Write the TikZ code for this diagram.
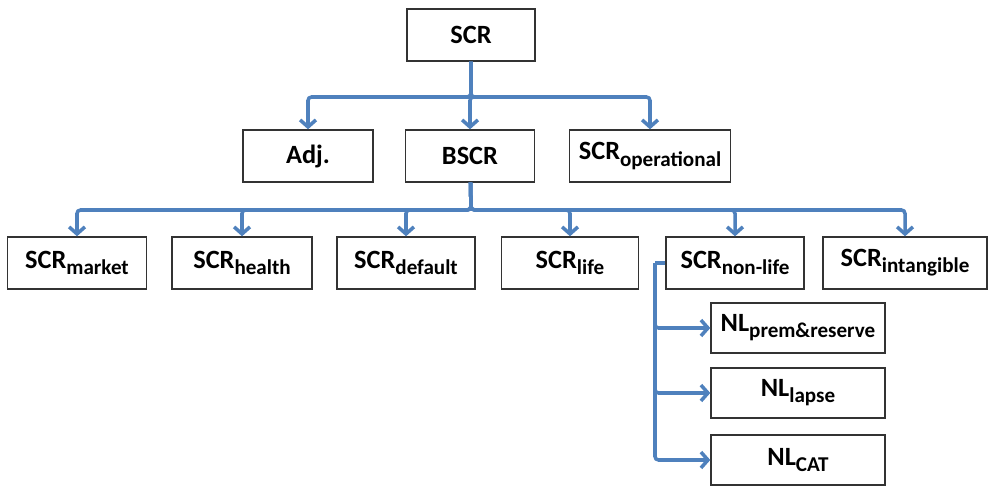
\documentclass[tikz,border=0pt]{standalone}
\usepackage{fontspec}
\setmainfont{Carlito}
\usetikzlibrary{arrows.meta,positioning}
\definecolor{linkblue}{RGB}{79,129,189}
\newcommand{\lo}[1]{\raisebox{-3.5pt}{\fontsize{12}{12}\selectfont #1}}

\begin{document}
\begin{tikzpicture}[
    x=0.02cm, y=-0.02cm,
    font=\fontsize{15}{18}\selectfont\bfseries,
    % Node styles
    box/.style={draw=black!80, line width=0.8pt, minimum width=2.6cm, minimum height=1.04cm, inner sep=1pt},
    nlbox/.style={box, minimum width=3.48cm, minimum height=1.0cm},
    link/.style={-{Straight Barb[length=4pt,width=9pt]}, line width=2pt, draw=linkblue, rounded corners=2pt},
]
    \useasboundingbox (0,0) rectangle (1001,497);

    % Top levels
    \node[box, minimum width=2.56cm] (scr) at (471,35) {SCR};
    \node[box] (adj) at (308,156) {Adj.};
    \node[box, minimum width=2.58cm] (bscr) at (470,156) {BSCR};
    \node[box, minimum width=3.22cm] (oper) at (650,156) {SCR\lo{operational}};

    % Risk modules
    \node[box, minimum width=2.78cm] (market) at (77,263) {SCR\lo{market}};
    \node[box, minimum width=2.8cm] (health) at (242,263) {SCR\lo{health}};
    \node[box, minimum width=2.76cm] (default) at (406,263) {SCR\lo{default}};
    \node[box, minimum width=2.74cm] (life) at (570,263) {SCR\lo{life}};
    \node[box, minimum width=2.76cm] (nonlife) at (735,263) {SCR\lo{non-life}};
    \node[box, minimum width=3.28cm] (intang) at (905,263) {SCR\lo{intangible}};

    % Non-life sub-modules
    \node[nlbox] (nlprem) at (798,328) {NL\lo{prem\&reserve}};
    \node[nlbox] (nllapse) at (798,393) {NL\lo{lapse}};
    \node[nlbox] (nlcat) at (798,460) {NL\lo{CAT}};

    % Bus points
    \coordinate (topbus) at (471,97);
    \coordinate (midbus) at (471,210);
    \coordinate (nlbus) at (655,263);

    % Connections
    \draw[link] (scr) -- (topbus) -| (adj);
    \draw[link] (scr) -- (topbus) -| (bscr);
    \draw[link] (scr) -- (topbus) -| (oper);

    \foreach \n in {market,health,default,life,nonlife,intang}
        \draw[link] (bscr) -- (midbus) -| (\n);

    \draw[line width=2pt, draw=linkblue] (nonlife.west) -- (nlbus);
    \foreach \n in {nlprem,nllapse,nlcat}
        \draw[link] (nlbus) |- (\n);

\end{tikzpicture}
\end{document}
